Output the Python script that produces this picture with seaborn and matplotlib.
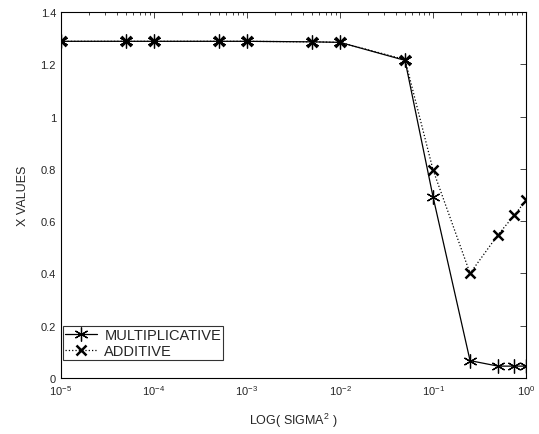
import matplotlib
matplotlib.use("Agg")
import matplotlib.pyplot as plt
import seaborn as sns
import numpy as np
import pandas as pd

sigma2 = [1e-5, 5e-5, 1e-4, 5e-4, 1e-3, 5e-3, 1e-2, 5e-2, 1e-1, 0.25, 0.5, 0.75, 1.0]
multiplicative = [1.288, 1.288, 1.288, 1.288, 1.288, 1.286, 1.284, 1.215, 0.693, 0.066, 0.045, 0.045, 0.045]
additive = [1.288, 1.288, 1.288, 1.288, 1.288, 1.286, 1.284, 1.218, 0.796, 0.400, 0.548, 0.623, 0.680]

sns.set_style("white")
plt.rcParams['font.family'] = ['Liberation Sans', 'DejaVu Sans']
plt.rcParams['mathtext.fontset'] = 'custom'
plt.rcParams['mathtext.rm'] = 'Liberation Sans'

fig = plt.figure(figsize=(5.39, 4.35), dpi=100)
ax = fig.add_axes([0.113, 0.129, 0.863, 0.841])

sns.lineplot(x=sigma2, y=multiplicative, ax=ax, color='black', linewidth=0.9,
             linestyle='-', marker=(6, 2, 0), markersize=10, markeredgewidth=0.9,
             markeredgecolor='black', label='MULTIPLICATIVE')
sns.lineplot(x=sigma2, y=additive, ax=ax, color='black', linewidth=0.9,
             linestyle=':', marker='x', markersize=6.5, markeredgewidth=1.8,
             markeredgecolor='black', label='ADDITIVE')

ax.set_xscale('log')
ax.set_xlim(1e-5, 1.0)
ax.set_ylim(0, 1.4)
ax.set_yticks([0, 0.2, 0.4, 0.6, 0.8, 1.0, 1.2, 1.4])
ax.set_yticklabels(['0', '0.2', '0.4', '0.6', '0.8', '1', '1.2', '1.4'])
ax.tick_params(axis='both', which='both', direction='in', top=True, right=True,
               labelsize=8, width=0.6)
ax.tick_params(axis='both', which='major', length=4)
ax.tick_params(axis='both', which='minor', length=2)
for s in ax.spines.values():
    s.set_linewidth(0.8)
    s.set_color('black')

ax.set_xlabel('LOG( SIGMA$^2$ )', fontsize=9, labelpad=10)
ax.set_ylabel('X VALUES', fontsize=9, labelpad=8)

leg = ax.legend(loc='lower left', fontsize=10.5, frameon=True, fancybox=False,
                edgecolor='black', borderpad=0.15, labelspacing=0.12,
                handlelength=2.2, handletextpad=0.5, borderaxespad=0.0,
                bbox_to_anchor=(0.004, 0.049))
leg.get_frame().set_linewidth(0.8)

fig.savefig('out.png', dpi=100)
